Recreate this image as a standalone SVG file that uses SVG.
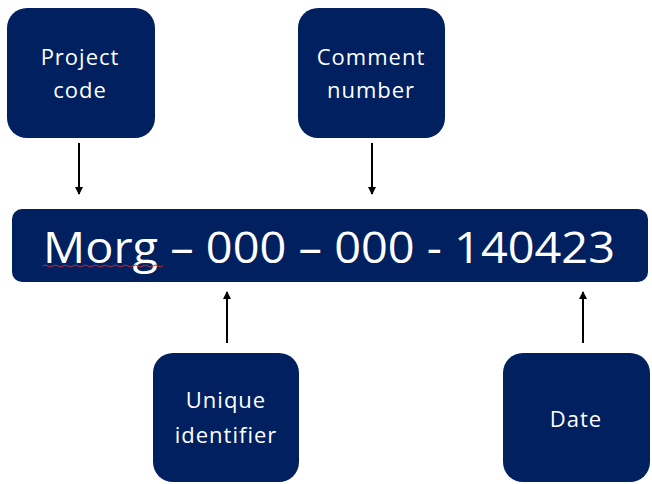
<svg xmlns="http://www.w3.org/2000/svg" width="652" height="484" viewBox="0 0 652 484">
<style>
.box{fill:#002060;}
.lbl{font-family:"Open Sans",Lato,"Liberation Sans",sans-serif;font-size:22px;letter-spacing:1px;fill:#ffffff;text-anchor:middle;}
.big{font-family:"Open Sans",Lato,"Liberation Sans",sans-serif;font-size:43px;fill:#ffffff;}
.conn{stroke:#000000;stroke-width:2;fill:none;marker-end:url(#ah);}
</style>
<defs>
<marker id="ah" markerWidth="8" markerHeight="10" refX="7" refY="4" orient="auto" markerUnits="userSpaceOnUse" viewBox="0 0 8 8">
<path d="M0,0 L8,4 L0,8 Z" fill="#000000"/>
</marker>
</defs>
<rect width="652" height="484" fill="#ffffff"/>
<g id="connectors">
<line class="conn" x1="79" y1="143" x2="79" y2="194"/>
<line class="conn" x1="372" y1="143" x2="372" y2="194"/>
<line class="conn" x1="227" y1="343" x2="227" y2="292"/>
<line class="conn" x1="583" y1="343" x2="583" y2="292"/>
</g>
<g id="project-code">
<rect class="box" x="7" y="8" width="148" height="130" rx="20"/>
<text class="lbl" x="80" y="65">Project</text>
<text class="lbl" x="80" y="98">code</text>
</g>
<g id="comment-number">
<rect class="box" x="298" y="8" width="147" height="130" rx="20"/>
<text class="lbl" x="371" y="65">Comment</text>
<text class="lbl" x="371" y="98">number</text>
</g>
<g id="code-bar">
<rect class="box" x="12" y="209" width="636" height="73" rx="10"/>
<text class="big" x="43" y="263" textLength="572" lengthAdjust="spacingAndGlyphs">Morg – 000 – 000 - 140423</text>
<path d="M43,266 q2.5,-2 5,0 t5,0 t5,0 t5,0 t5,0 t5,0 t5,0 t5,0 t5,0 t5,0 t5,0 t5,0 t5,0 t5,0 t5,0 t5,0 t5,0 t5,0 t5,0 t5,0 t5,0 t5,0 t5,0 t5,0" stroke="#e02020" stroke-width="1" fill="none"/>
</g>
<g id="unique-identifier">
<rect class="box" x="153" y="353" width="146" height="129" rx="20"/>
<text class="lbl" x="226" y="408">Unique</text>
<text class="lbl" x="226" y="443">identifier</text>
</g>
<g id="date">
<rect class="box" x="503" y="353" width="147" height="129" rx="20"/>
<text class="lbl" x="576" y="427">Date</text>
</g>
</svg>
